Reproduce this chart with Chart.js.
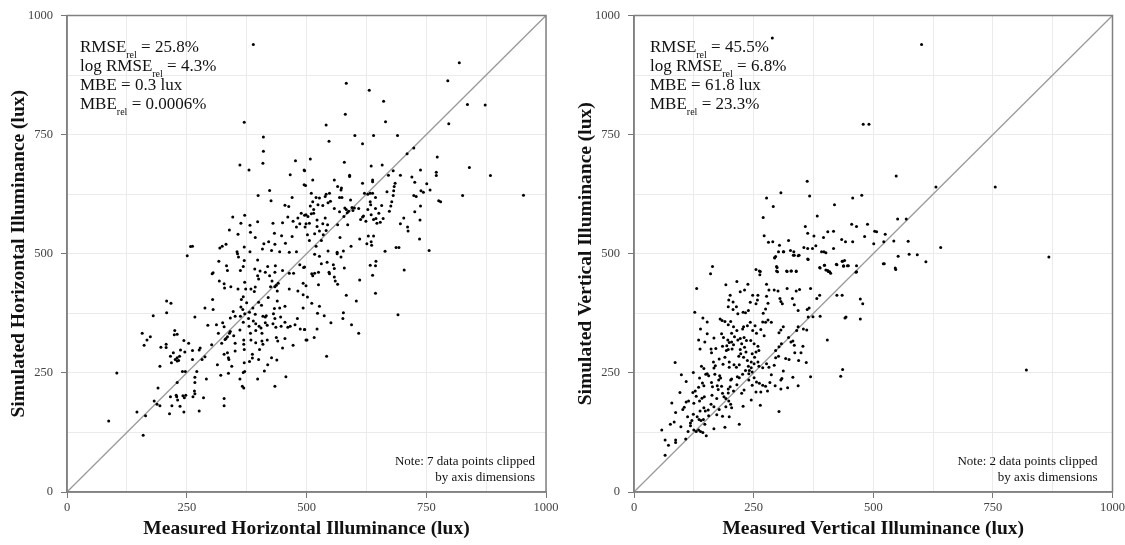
<!DOCTYPE html>
<html>
<head>
<meta charset="utf-8">
<script src="https://cdn.jsdelivr.net/npm/chart.js@4.4.1/dist/chart.umd.min.js"></script>
<style>
  html, body { margin: 0; padding: 0; background: #fff; overflow: hidden; }
  #wrap { position: relative; width: 1125px; height: 545px; overflow: hidden; }
  .box { position: absolute; top: 0; height: 545px; }
  #left { left: 0; width: 562px; }
  #right { left: 562px; width: 565px; }
</style>
</head>
<body>
<div id="wrap">
  <div class="box" id="left"><canvas id="horiz"></canvas></div>
  <div class="box" id="right"><canvas id="vert"></canvas></div>
</div>
<script>
// measured vs simulated illuminance (lux)
const horizontalPoints = [
  [389,939],[370,776],[410,745],[410,715],[409,690],[361,686],[380,676],[477,695],[495,676],[466,666],[495,645],[423,633],[399,622],[426,611],[470,618],[455,602],[463,599],[489,585],[496,581],[346,577],[371,581],[461,577],[482,575],[398,567],[363,564],[382,560],[430,564],[450,565],[472,568],[486,563],[339,550],[383,545],[357,541],[433,543],[448,538],[470,536],[479,556],[497,556],[393,534],[421,525],[411,521],[456,522],[434,520],[262,516],[258,515],[324,516],[319,512],[332,520],[370,514],[355,504],[382,504],[408,510],[427,507],[444,504],[464,503],[479,504],
  [819,901],[795,863],[583,858],[631,843],[661,820],[836,813],[873,812],[581,793],[665,777],[797,773],[541,770],[601,748],[640,748],[690,748],[547,736],[617,731],[724,722],[710,710],[773,703],[508,699],[579,692],[635,684],[658,686],[840,681],[738,676],[681,674],[496,674],[771,671],[771,664],[590,665],[590,662],[884,664],[671,665],[696,665],[513,655],[558,655],[638,655],[638,651],[720,661],[751,647],[726,650],[685,648],[617,648],[498,643],[565,641],[573,638],[683,641],[572,634],[758,634],[739,632],[682,632],[744,629],[621,627],[628,625],[633,627],[638,627],[668,630],[724,622],[729,620],[826,622],[953,623],[510,627],[520,618],[527,617],[541,625],[548,627],[539,620],[569,618],[574,618],[592,613],[644,618],[681,622],[550,610],[545,607],[513,609],[524,603],[534,601],[633,609],[634,603],[678,609],[676,600],[776,611],[780,609],[657,601],[738,600],[508,600],[515,593],[558,595],[580,596],[583,593],[595,597],[600,596],[609,595],[628,593],[644,595],[569,588],[585,586],[588,589],[597,591],[619,579],[651,585],[673,589],[726,588],[499,582],[503,578],[510,584],[515,585],[578,578],[617,577],[635,582],[645,574],[640,572],[660,574],[703,575],[737,571],[522,571],[539,575],[499,563],[506,564],[522,557],[534,563],[544,561],[565,561],[586,561],[613,572],[624,568],[647,564],[654,566],[696,563],[711,556],[712,548],[502,540],[517,542],[527,548],[535,540],[541,549],[570,534],[629,537],[640,537],[736,531],[506,528],[531,528],[611,531],[626,521],[635,525],[636,518],[593,516],[687,513],[693,513],[520,516],[545,506],[564,503],[577,506],[664,505],[756,507],
  [251,496],[356,500],[358,493],[317,484],[370,486],[398,487],[333,475],[368,473],[419,473],[435,475],[335,465],[362,465],[392,468],[403,464],[305,460],[303,458],[398,454],[414,461],[423,454],[434,461],[450,465],[464,459],[473,459],[486,477],[494,471],[400,447],[318,443],[328,437],[371,440],[428,443],[441,438],[342,431],[329,428],[357,426],[373,426],[384,426],[393,430],[425,431],[434,431],[437,434],[439,422],[464,426],[493,438],[482,422],[368,410],[364,404],[420,408],[391,421],[493,414],[304,404],[400,398],[439,401],[375,397],[363,388],[367,383],[406,392],[455,390],[493,386],[288,386],[305,383],[388,386],[433,385],[444,386],[208,401],[217,396],[208,376],[180,370],[347,379],[351,369],[371,374],[381,377],[393,373],[416,370],[431,374],[267,367],[341,365],[362,369],[379,364],[409,369],[414,367],[434,364],[446,367],[481,364],[368,356],[389,359],[394,353],[414,355],[430,353],[455,356],[325,355],[312,351],[294,350],[328,347],[380,348],[401,348],[418,350],[436,346],[447,348],[461,346],[466,348],[476,351],[487,342],[496,341],[361,340],[394,339],[405,344],[341,337],[339,333],[316,333],[157,333],[225,339],[224,330],[230,331],[332,322],[335,326],[348,328],[383,333],[407,333],[174,326],[167,319],[161,308],[244,318],[330,320],[369,319],[384,319],[407,317],[418,319],[437,324],[440,317],[455,322],[499,319],[254,312],[207,310],[196,304],[207,303],[302,309],[323,312],[351,312],[369,310],[394,313],[409,310],[278,302],[276,298],[237,298],[262,297],[370,299],[402,299],[450,302],[472,308],[222,292],[246,294],[351,296],[216,285],[235,285],[230,282],[226,278],[288,284],[328,289],[335,292],[337,282],[387,289],[387,281],[427,282],[230,275],[218,271],[233,276],[262,278],[282,278],[338,278],[381,274],[400,278],[438,277],[194,264],[314,267],[344,264],[370,271],[371,253],[368,251],[412,254],[419,267],[241,253],[247,253],[271,253],[104,250],[321,245],[337,249],[457,242],[267,241],[291,237],[361,237],[398,237],[267,230],[230,230],[366,222],[369,218],[434,222],[190,218],[266,212],[267,206],[228,203],[229,200],[216,200],[242,202],[248,203],[245,198],[263,200],[285,198],[328,196],[231,193],[182,191],[188,184],[194,181],[219,181],[236,180],[328,181],[276,170],[244,168],[146,168],[214,164],[164,160],[87,149],[159,119],
  [517,499],[527,495],[564,500],[572,493],[496,472],[531,479],[543,482],[556,477],[558,469],[579,470],[511,458],[513,454],[517,459],[525,461],[547,461],[548,458],[558,451],[560,443],[565,436],[525,435],[499,433],[633,476],[645,484],[644,475],[638,455],[611,445],[704,466],[583,413],[644,417],[502,409],[604,401],[511,396],[527,390],[523,375],[537,370],[577,376],[576,364],[691,372],[551,355],[594,351],[609,333],[496,341],[522,342],[501,319],[516,324],[542,285]
];

const verticalPoints = [
  [164,473],[160,458],[131,427],[127,377],[86,272],[65,109],[58,130],[72,98],[65,77],[87,109],[87,104],[79,187],[76,142],[84,147],[99,246],[109,232],[96,209],[87,167],[98,137],[102,173],[105,178],[109,189],[114,191],[112,158],[113,127],[108,111],[118,145],[118,139],[121,150],[124,251],[123,209],[128,212],[130,201],[125,186],[124,163],[132,158],[136,152],[125,130],[130,127],[135,130],[139,127],[144,125],[151,118],[140,150],[145,152],[148,142],[138,170],[146,177],[149,170],[137,191],[142,197],[147,200],[135,220],[146,223],[143,229],[137,239],[150,247],[153,248],[156,244],[141,264],[146,259],[148,315],[135,319],[138,300],[139,342],[144,365],[153,332],[153,357],[161,300],[167,323],[162,292],[166,273],[167,260],[169,247],[162,230],[164,221],[163,203],[161,184],[155,172],[156,160],[167,179],[173,162],[178,173],[167,133],[185,159],[190,136],[173,196],[176,215],[174,223],[177,235],[181,239],[179,244],[183,222],[185,207],[188,200],[192,196],[197,208],[197,216],[202,235],[204,237],[201,221],[208,212],[198,191],[202,184],[204,177],[192,179],[199,158],[220,142],[228,180],[230,214],[225,207],[215,225],[216,242],[220,240],[227,247],[233,255],[220,267],[214,262],[209,267],[199,273],[190,283],[193,297],[197,299],[194,307],[199,314],[196,319],[204,315],[205,300],[208,309],[185,306],[187,324],[183,332],[171,301],[170,265],[178,279],[186,268],[199,262],[180,363],[184,360],[190,358],[197,351],[202,358],[208,347],[215,339],[204,333],[210,326],[217,319],[222,322],[225,311],[231,304],[222,299],[219,285],[223,290],[229,283],[234,294],[237,276],[239,264],[241,255],[245,261],[247,252],[240,235],[240,248],[247,224],[251,240],[256,231],[262,228],[269,224],[275,222],[279,212],[265,210],[255,210],[245,193],[264,182],[303,169],[307,216],[321,219],[343,223],[295,223],[284,230],[287,246],[309,238],[307,235],[332,241],[369,242],[432,243],[436,257],[312,254],[293,266],[282,262],[277,269],[269,261],[261,264],[259,273],[251,269],[245,273],[252,283],[247,290],[255,294],[261,297],[259,306],[251,311],[244,318],[235,318],[230,324],[227,342],[229,347],[237,349],[243,356],[248,339],[253,349],[256,333],[265,341],[272,328],[269,357],[275,356],[280,361],[287,356],[303,334],[307,340],[312,347],[303,305],[308,311],[296,282],[302,285],[296,297],[317,280],[324,278],[336,292],[344,276],[349,292],[353,306],[360,272],[335,308],[328,315],[332,317],[323,324],[340,339],[343,347],[354,342],[361,340],[364,367],[366,386],[362,383],[374,368],[389,369],[382,406],[388,413],[404,319],[424,413],[435,413],[443,367],[441,365],[473,363],[473,405],[478,395],[521,479],[464,461],[446,475],[438,475],[436,484],[423,478],[411,459],[406,463],[401,466],[398,476],[388,471],[369,427],[346,425],[339,422],[331,406],[335,393],[343,381],[320,427],[307,400],[310,395],[305,406],[301,422],[293,424],[282,424],[277,436],[277,411],[280,396],[275,384],[270,375],[258,403],[255,395],[259,413],[248,413],[243,398],[239,381],[233,376],[228,377],[231,424],[222,420],[238,436],[215,442],[192,435],[201,413],[198,403],[207,399],[197,389],[207,383],[214,389],[217,374],[255,467],[262,464],[263,456],[298,473],[298,464],[319,464],[328,464],[339,464],[294,492],[312,504],[335,497],[343,496],[363,489],[397,504],
  [289,953],[601,939],[479,772],[491,772],[548,663],[362,652],[631,640],[755,640],[307,628],[277,617],[367,621],[457,617],[476,623],[419,603],[291,599],[270,576],[383,579],[551,573],[569,573],[358,557],[455,562],[465,557],[488,562],[363,543],[376,537],[405,546],[417,547],[503,547],[507,546],[525,541],[272,538],[281,524],[290,525],[323,528],[396,534],[434,530],[442,525],[457,525],[482,536],[501,521],[522,525],[543,527],[573,526],[304,518],[355,513],[363,511],[373,511],[380,517],[417,511],[641,513],[302,504],[313,504],[327,507],[334,504],[333,497],[345,497],[392,504],[401,502],[296,494],[294,491],[552,495],[575,499],[592,498],[867,493],[364,488],[435,484],[440,486],[424,477],[438,474],[448,475],[465,475],[398,476],[389,470],[405,465],[409,462],[523,479],[546,470],[547,467],[610,483],[264,463],[300,462],[320,463],[329,464],[339,463],[299,471],[465,462],
  [820,256]
];

const axisTicks = [0, 250, 500, 750, 1000];
const identityLine = [[0, 0], [1000, 1000]];

const horizontalStats = [
  ['RMSE', '_rel', ' = 25.8%'],
  ['log RMSE', '_rel', ' = 4.3%'],
  ['MBE = 0.3 lux'],
  ['MBE', '_rel', ' = 0.0006%']
];
const verticalStats = [
  ['RMSE', '_rel', ' = 45.5%'],
  ['log RMSE', '_rel', ' = 6.8%'],
  ['MBE = 61.8 lux'],
  ['MBE', '_rel', ' = 23.3%']
];
const horizontalNote = ['Note: 7 data points clipped', 'by axis dimensions'];
const verticalNote = ['Note: 2 data points clipped', 'by axis dimensions'];

const SERIF = '"Liberation Serif", "Times New Roman", serif';

// frame + text annotations
const annotatePlugin = {
  id: 'annotate',
  afterDraw(chart, args, opts) {
    const ctx = chart.ctx;
    const a = chart.chartArea;
    ctx.save();
    ctx.strokeStyle = '#808080';
    ctx.lineWidth = 1.5;
    ctx.strokeRect(a.left, a.top, a.right - a.left, a.bottom - a.top);

    ctx.fillStyle = '#111';
    ctx.textBaseline = 'alphabetic';
    ctx.textAlign = 'left';
    opts.lines.forEach((parts, i) => {
      let x = a.left + opts.dx;
      const y = a.top + 36 + i * 19.3;
      parts.forEach(p => {
        const sub = p.startsWith('_');
        const txt = sub ? p.slice(1) : p;
        ctx.font = (sub ? '10px ' : '17px ') + SERIF;
        ctx.fillText(txt, x, sub ? y + 6 : y);
        x += ctx.measureText(txt).width;
      });
    });

    ctx.font = '13px ' + SERIF;
    ctx.textAlign = 'right';
    ctx.fillText(opts.note[0], a.right - opts.noteDx, a.bottom - 27);
    ctx.fillText(opts.note[1], a.right - opts.noteDx, a.bottom - 11);
    ctx.restore();
  }
};

function axis(title, extra) {
  return Object.assign({
    type: 'linear',
    min: 0,
    max: 1000,
    afterBuildTicks: s => { s.ticks = [0,125,250,375,500,625,750,875,1000].map(v => ({ value: v })); },
    ticks: {
      autoSkip: false,
      color: '#444',
      font: { family: SERIF, size: 12.5 },
      callback: v => axisTicks.includes(v) ? String(v) : ''
    },
    grid: {
      color: '#ebebeb',
      lineWidth: 1,
      tickLength: 6,
      tickColor: c => axisTicks.includes(c.tick.value) ? '#777' : 'rgba(0,0,0,0)'
    },
    border: { color: '#808080', width: 1.5 },
    title: {
      display: true,
      text: title,
      color: '#111',
      font: { family: SERIF, size: 19.5, weight: 'bold' }
    }
  }, extra);
}

function makeChart(id, points, xTitle, yTitle, stats, note, cfg) {
  const xAxis = axis(xTitle, { afterFit: s => { s.height = 53; } });
  xAxis.ticks.padding = 2;
  xAxis.title.padding = { top: 0, bottom: 4 };
  const yAxis = axis(yTitle, { afterFit: s => { s.width = cfg.yWidth; } });
  yAxis.ticks.padding = 8;
  yAxis.title.padding = { top: cfg.yTitlePad, bottom: 0 };

  new Chart(document.getElementById(id), {
    type: 'scatter',
    data: {
      datasets: [
        {
          data: points.map(p => ({ x: p[0], y: p[1] })),
          backgroundColor: '#000',
          borderColor: '#000',
          pointRadius: 1.5,
          pointHoverRadius: 1.5,
          borderWidth: 0
        },
        {
          type: 'line',
          data: identityLine.map(p => ({ x: p[0], y: p[1] })),
          borderColor: '#9a9a9a',
          borderWidth: 1.3,
          pointRadius: 0,
          fill: false
        }
      ]
    },
    options: {
      responsive: true,
      maintainAspectRatio: false,
      animation: false,
      layout: { padding: { left: 0, top: 13, right: cfg.padRight, bottom: 0 } },
      plugins: {
        legend: { display: false },
        tooltip: { enabled: false },
        annotate: { lines: stats, note: note, dx: cfg.textDx, noteDx: cfg.noteDx }
      },
      scales: { x: xAxis, y: yAxis }
    },
    plugins: [annotatePlugin]
  });
}

makeChart('horiz', horizontalPoints,
  'Measured Horizontal Illuminance (lux)', 'Simulated Horizontal Illuminance (lux)',
  horizontalStats, horizontalNote,
  { yWidth: 67, padRight: 16, yTitlePad: 7, textDx: 13, noteDx: 11 });

makeChart('vert', verticalPoints,
  'Measured Vertical Illuminance (lux)', 'Simulated Vertical Illuminance (lux)',
  verticalStats, verticalNote,
  { yWidth: 72, padRight: 2, yTitlePad: 12, textDx: 16, noteDx: 15 });
</script>
</body>
</html>
